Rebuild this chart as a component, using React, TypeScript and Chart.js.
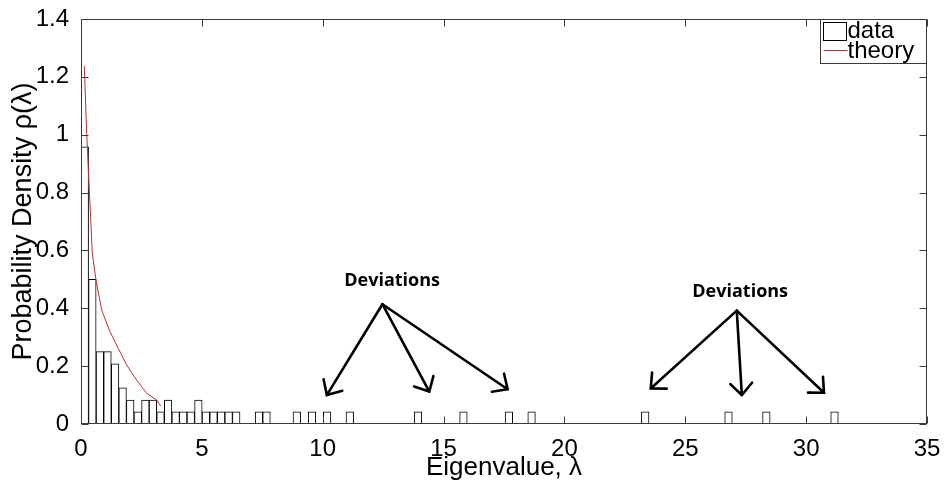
import { useEffect, useRef } from "react";
import { Chart, registerables } from "chart.js";

Chart.register(...registerables);

// Histogram bins (only non-empty bins listed), width
const binWidth = 0.3133;
const binCenters = [
  0.157, 0.47, 0.783, 1.097, 1.41, 1.723, 2.036, 2.35, 2.663, 2.976, 3.29,
  3.603, 3.916, 4.229, 4.543, 4.856, 5.169, 5.483, 5.796, 6.109, 6.422,
  7.363, 7.676, 8.929, 9.556, 10.182, 11.122, 13.942, 15.822, 17.702,
  18.641, 23.341, 26.787, 28.354, 31.173,
];
const binDensity = [
  0.958, 0.5, 0.25, 0.25, 0.208, 0.125, 0.083, 0.042, 0.083, 0.083, 0.042,
  0.083, 0.042, 0.042, 0.042, 0.083, 0.042, 0.042, 0.042, 0.042, 0.042,
  0.042, 0.042, 0.042, 0.042, 0.042, 0.042, 0.042, 0.042, 0.042,
  0.042, 0.042, 0.042, 0.042, 0.042,
];

// Theory curve
const theoryX = [0.137, 0.235, 0.344, 0.468, 0.62, 0.855, 1.2, 1.54, 1.89, 2.3, 2.72, 3.13, 3.3];
const theoryY = [1.238, 1.005, 0.809, 0.59, 0.498, 0.394, 0.319, 0.262, 0.204, 0.152, 0.106, 0.083, 0.062];

// Ticks
const xTicks = [0, 5, 10, 15, 20, 25, 30, 35];
const yTicks = [0, 0.2, 0.4, 0.6, 0.8, 1, 1.2, 1.4];

const legendLabels = ["data", "theory"];
const xTitle = "Eigenvalue, \u03bb";
const yTitle = "Probability Density \u03c1(\u03bb)";

// Annotations in data units
const noteText = "Deviations";
const noteAnchors = [
  { x: 12.87, y: 0.494 },
  { x: 27.27, y: 0.456 },
];
const arrowApex = [
  [12.47, 0.414],
  [27.13, 0.392],
];
const arrowTips = [
  [
    [10.17, 0.1],
    [14.41, 0.112],
    [17.65, 0.12],
  ],
  [
    [23.57, 0.123],
    [27.34, 0.1],
    [30.74, 0.108],
  ],
];

const FONT = "'Liberation Sans', Arial, sans-serif";

const overlayPlugin = {
  id: "overlay",
  afterDraw(chart: any) {
    const { ctx, chartArea: a, scales } = chart;
    const xs = scales.x;
    const ys = scales.y;
    ctx.save();
    // axes box
    const L = Math.round(a.left) + 0.5;
    const R = Math.round(a.right) - 0.5;
    const T = Math.round(a.top) + 0.5;
    const B = Math.round(a.bottom) - 0.5;
    ctx.strokeStyle = "#3a3a3a";
    ctx.lineWidth = 1;
    ctx.strokeRect(L, T, R - L, B - T);
    // inward ticks
    const tl = 7;
    ctx.beginPath();
    xTicks.forEach((v) => {
      const px = Math.round(xs.getPixelForValue(v)) + 0.5;
      ctx.moveTo(px, B);
      ctx.lineTo(px, B - tl);
      ctx.moveTo(px, T);
      ctx.lineTo(px, T + tl);
    });
    yTicks.forEach((v) => {
      const py = Math.round(ys.getPixelForValue(v)) + 0.5;
      ctx.moveTo(L, py);
      ctx.lineTo(L + tl, py);
      ctx.moveTo(R, py);
      ctx.lineTo(R - tl, py);
    });
    ctx.stroke();

    // legend
    const lw = 106;
    const lh = 44;
    const lx = R - lw;
    const ly = T;
    ctx.fillStyle = "#fff";
    ctx.fillRect(lx, ly, lw, lh);
    ctx.strokeStyle = "#3a3a3a";
    ctx.strokeRect(lx, ly, lw, lh);
    ctx.strokeStyle = "#000";
    ctx.strokeRect(lx + 3, ly + 3, 23, 18);
    ctx.strokeStyle = "#b83232";
    ctx.beginPath();
    ctx.moveTo(lx + 3, ly + 31);
    ctx.lineTo(lx + 27, ly + 31);
    ctx.stroke();
    ctx.fillStyle = "#000";
    ctx.font = `24px ${FONT}`;
    ctx.textAlign = "left";
    ctx.textBaseline = "middle";
    ctx.fillText(legendLabels[0], lx + 27, ly + 12);
    ctx.fillText(legendLabels[1], lx + 27, ly + 32);

    // annotations
    ctx.font = `bold 18px 'Open Sans', 'DejaVu Sans', sans-serif`;
    ctx.textAlign = "center";
    ctx.textBaseline = "middle";
    noteAnchors.forEach((n) => {
      ctx.fillText(noteText, xs.getPixelForValue(n.x), ys.getPixelForValue(n.y));
    });
    ctx.strokeStyle = "#000";
    ctx.lineWidth = 2.6;
    ctx.lineCap = "round";
    arrowApex.forEach((ap, gi) => {
      const ax = xs.getPixelForValue(ap[0]);
      const ay = ys.getPixelForValue(ap[1]);
      arrowTips[gi].forEach((tp) => {
        const tx = xs.getPixelForValue(tp[0]);
        const ty = ys.getPixelForValue(tp[1]);
        ctx.beginPath();
        ctx.moveTo(ax, ay);
        ctx.lineTo(tx, ty);
        const ang = Math.atan2(ay - ty, ax - tx);
        const hl = 16;
        const spread = 0.75;
        ctx.moveTo(tx + hl * Math.cos(ang - spread), ty + hl * Math.sin(ang - spread));
        ctx.lineTo(tx, ty);
        ctx.lineTo(tx + hl * Math.cos(ang + spread), ty + hl * Math.sin(ang + spread));
        ctx.stroke();
      });
    });
    ctx.restore();
  },
};

export default function App() {
  const ref = useRef<HTMLCanvasElement | null>(null);
  useEffect(() => {
    document.body.style.margin = "0";
    const canvas = ref.current;
    if (!canvas) return;
    Chart.defaults.font.family = FONT;
    Chart.defaults.color = "#000";
    const chart = new Chart(canvas, {
      type: "bar",
      data: {
        datasets: [
          {
            type: "line",
            label: legendLabels[1],
            data: theoryX.map((x, i) => ({ x, y: theoryY[i] })),
            borderColor: "#b83232",
            borderWidth: 1,
            pointRadius: 0,
            tension: 0,
            fill: false,
            order: 0,
          } as any,
          {
            type: "bar",
            label: legendLabels[0],
            data: binCenters.map((x, i) => ({ x, y: binDensity[i] })),
            backgroundColor: "#fff",
            borderColor: "#000",
            borderWidth: 1,
            borderSkipped: "start",
            barPercentage: 1,
            categoryPercentage: 1,
            order: 1,
          } as any,
        ],
      },
      options: {
        animation: false,
        responsive: true,
        maintainAspectRatio: false,
        layout: { padding: { top: 19, right: 20, left: 0, bottom: 0 } },
        plugins: { legend: { display: false }, tooltip: { enabled: false } },
        scales: {
          x: {
            type: "linear",
            min: 0,
            max: 35,
            offset: false,
            grid: { display: false },
            border: { display: false },
            afterBuildTicks: (s: any) => {
              s.ticks = xTicks.map((v) => ({ value: v }));
            },
            afterFit: (s: any) => {
              s.height = 57;
            },
            ticks: { font: { size: 24 }, padding: 3, maxRotation: 0, autoSkip: false },
            title: { display: true, text: xTitle, font: { size: 26 }, padding: { top: 0, bottom: -2 } },
          },
          y: {
            type: "linear",
            min: 0,
            max: 1.4,
            grid: { display: false },
            border: { display: false },
            afterBuildTicks: (s: any) => {
              s.ticks = yTicks.map((v) => ({ value: v }));
            },
            afterFit: (s: any) => {
              s.width = 81;
            },
            ticks: {
              font: { size: 24 },
              padding: 4,
              callback: (v: any) => String(Number(Number(v).toFixed(1))),
            },
            title: { display: true, text: yTitle, font: { size: 27 }, padding: { top: 7, bottom: 0 } },
          },
        },
      },
      plugins: [overlayPlugin],
    });
    return () => chart.destroy();
  }, []);
  return (
    <div style={{ position: "relative", width: 947, height: 481 }}>
      <canvas ref={ref} />
    </div>
  );
}
